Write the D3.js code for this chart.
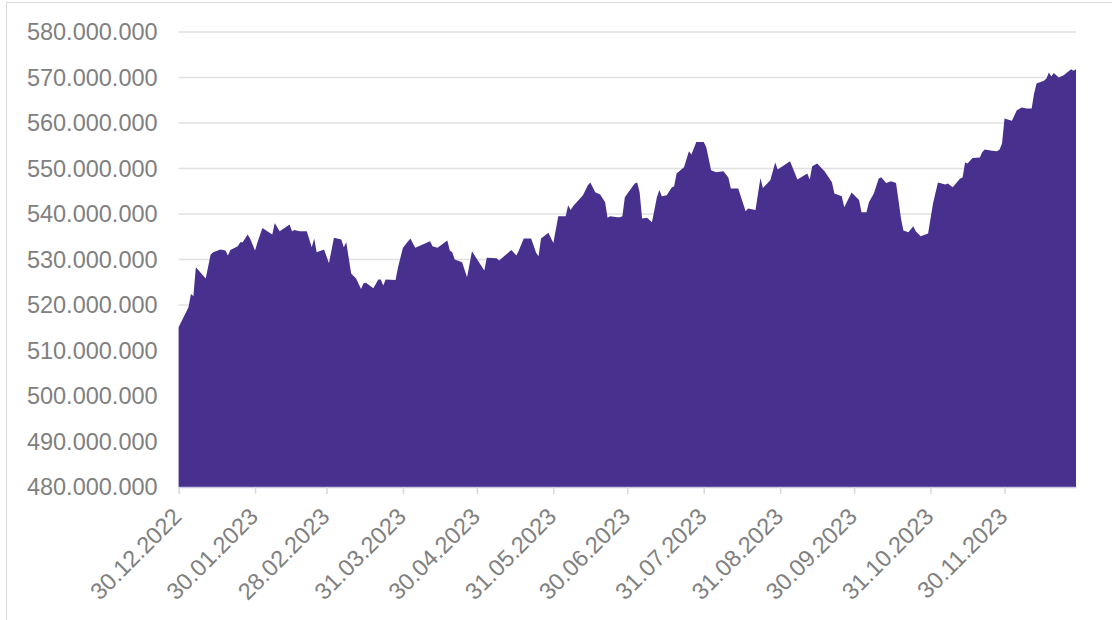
<!DOCTYPE html>
<html>
<head>
<meta charset="utf-8">
<script src="https://cdnjs.cloudflare.com/ajax/libs/d3/7.8.5/d3.min.js"></script>
<style>
  body { margin: 0; background: #ffffff; }
  #chart text { font-family: "Liberation Sans", Arial, sans-serif; fill: #808080; }
</style>
</head>
<body>
<div id="chart"></div>
<script>
// dates of the series (calendar days)
var dates = [
  "2022-12-30","2023-01-03","2023-01-04","2023-01-05","2023-01-06","2023-01-10","2023-01-12","2023-01-13",
  "2023-01-16","2023-01-18","2023-01-19","2023-01-20","2023-01-23","2023-01-24","2023-01-25","2023-01-27",
  "2023-01-28","2023-01-30","2023-01-31","2023-02-02","2023-02-06","2023-02-07","2023-02-09","2023-02-13",
  "2023-02-14","2023-02-15","2023-02-17","2023-02-20","2023-02-22","2023-02-23","2023-02-24","2023-02-27",
  "2023-03-01","2023-03-03","2023-03-06","2023-03-07","2023-03-08","2023-03-10","2023-03-12","2023-03-14",
  "2023-03-15","2023-03-16","2023-03-19","2023-03-21","2023-03-22","2023-03-23","2023-03-24","2023-03-28",
  "2023-03-29","2023-03-31","2023-04-03","2023-04-05","2023-04-11","2023-04-12","2023-04-14","2023-04-18",
  "2023-04-19","2023-04-20","2023-04-21","2023-04-24","2023-04-26","2023-04-28","2023-05-03","2023-05-04",
  "2023-05-08","2023-05-09","2023-05-14","2023-05-16","2023-05-17","2023-05-19","2023-05-22","2023-05-23",
  "2023-05-24","2023-05-25","2023-05-26","2023-05-29","2023-05-31","2023-06-02","2023-06-05","2023-06-06",
  "2023-06-07","2023-06-08","2023-06-12","2023-06-14","2023-06-15","2023-06-17","2023-06-19","2023-06-21",
  "2023-06-22","2023-06-23","2023-06-26","2023-06-27","2023-06-28","2023-06-29","2023-07-03","2023-07-04",
  "2023-07-05","2023-07-06","2023-07-08","2023-07-10","2023-07-12","2023-07-13","2023-07-14","2023-07-16",
  "2023-07-18","2023-07-19","2023-07-20","2023-07-23","2023-07-25","2023-07-26","2023-07-28","2023-07-31",
  "2023-08-01","2023-08-03","2023-08-05","2023-08-08","2023-08-10","2023-08-11","2023-08-14","2023-08-17",
  "2023-08-18","2023-08-21","2023-08-23","2023-08-24","2023-08-27","2023-08-29","2023-08-30","2023-09-04",
  "2023-09-05","2023-09-07","2023-09-11","2023-09-12","2023-09-13","2023-09-15","2023-09-18","2023-09-21",
  "2023-09-22","2023-09-25","2023-09-26","2023-09-27","2023-09-29","2023-10-02","2023-10-03","2023-10-05",
  "2023-10-06","2023-10-08","2023-10-10","2023-10-11","2023-10-13","2023-10-15","2023-10-17","2023-10-18",
  "2023-10-19","2023-10-20","2023-10-22","2023-10-24","2023-10-25","2023-10-27","2023-10-30","2023-11-01",
  "2023-11-03","2023-11-06","2023-11-07","2023-11-09","2023-11-12","2023-11-13","2023-11-14","2023-11-15",
  "2023-11-17","2023-11-20","2023-11-21","2023-11-22","2023-11-25","2023-11-27","2023-11-28","2023-11-29",
  "2023-11-30","2023-12-03","2023-12-05","2023-12-07","2023-12-09","2023-12-11","2023-12-12","2023-12-13",
  "2023-12-16","2023-12-17","2023-12-18","2023-12-19","2023-12-20","2023-12-22","2023-12-24","2023-12-26",
  "2023-12-27","2023-12-28","2023-12-29"
];

// values in millions
var values = [
  515.1,519.5,522.4,522.0,528.3,525.8,531.1,531.6,
  532.2,532.0,530.9,532.1,532.9,533.8,533.8,535.5,
  534.6,532.0,533.8,536.9,535.5,538.0,536.2,537.7,
  536.2,536.5,536.2,536.2,532.7,534.6,531.6,532.2,
  529.2,534.8,534.4,532.7,533.8,526.9,525.8,523.5,
  524.8,524.9,523.7,525.6,525.6,524.3,525.6,525.5,
  528.3,532.6,534.6,532.6,534.0,532.9,532.6,534.2,
  532.0,531.6,530.0,529.4,526.1,531.8,527.6,530.4,
  530.3,529.8,532.1,530.9,532.0,534.6,534.6,533.1,
  531.5,530.7,534.6,535.9,533.6,539.5,539.5,541.9,
  540.9,541.7,544.1,546.3,546.9,544.8,544.3,542.6,
  539.2,539.5,539.3,539.3,539.5,543.7,546.7,546.9,
  544.8,539.0,539.2,538.2,543.7,545.3,543.9,544.1,
  545.8,546.1,548.9,550.3,553.8,553.1,555.8,555.8,
  554.7,549.6,549.2,549.4,548.0,545.6,545.6,540.6,
  541.2,540.9,547.9,545.7,547.4,551.3,549.8,551.6,
  550.3,547.6,548.9,547.6,550.5,551.1,549.4,547.0,
  544.5,543.9,541.5,542.6,544.7,543.1,540.4,540.4,
  542.6,544.5,547.8,548.1,546.8,547.2,546.8,543.0,
  539.0,536.4,536.0,537.3,536.2,535.1,535.7,542.3,
  546.9,546.5,546.7,545.9,547.8,548.0,551.3,551.1,
  552.3,552.4,553.6,554.2,553.9,553.8,554.2,555.5,
  561.0,560.5,562.8,563.4,563.2,563.2,566.5,568.7,
  569.3,569.8,571.1,570.2,571.0,570.0,570.5,571.4,
  571.8,571.5,571.8
];

// tick labels
var xTickLabels = ["30.12.2022","30.01.2023","28.02.2023","31.03.2023","30.04.2023","31.05.2023",
                   "30.06.2023","31.07.2023","31.08.2023","30.09.2023","31.10.2023","30.11.2023"];
var yTicks = [480, 490, 500, 510, 520, 530, 540, 550, 560, 570, 580];

var W = 1112, H = 620;
var margin = {top: 32, right: 36, bottom: 133, left: 178.6};
var width = W - margin.left - margin.right,
    height = H - margin.top - margin.bottom;

var parseIso = d3.utcParse("%Y-%m-%d"),
    parseDe = d3.utcParse("%d.%m.%Y");

var data = dates.map(function(d, i) { return {date: parseIso(d), value: values[i]}; });

var de = d3.formatLocale({decimal: ",", thousands: ".", grouping: [3], currency: ["", " €"]});
var fmt = de.format(",.0f");

var svg = d3.select("#chart").append("svg")
    .attr("width", W)
    .attr("height", H);

// outer frame
svg.append("rect")
    .attr("x", 6.5).attr("y", 2.5)
    .attr("width", 1120).attr("height", 640)
    .attr("fill", "none")
    .attr("stroke", "#d9d9d9")
    .attr("stroke-width", 1);

var g = svg.append("g")
    .attr("transform", "translate(" + margin.left + "," + margin.top + ")");

var x = d3.scaleUtc()
    .domain([parseIso("2022-12-30"), parseIso("2023-12-29")])
    .range([0, width]);
var y = d3.scaleLinear()
    .domain([480, 580])
    .range([height, 0]);

// gridlines
g.append("g")
    .selectAll("line")
    .data(yTicks)
    .enter().append("line")
      .attr("x1", 0).attr("x2", width)
      .attr("y1", function(d) { return y(d); })
      .attr("y2", function(d) { return y(d); })
      .attr("stroke", "#e0e0e0")
      .attr("stroke-width", 1.5);

// y labels
g.append("g")
    .selectAll("text")
    .data(yTicks)
    .enter().append("text")
      .attr("x", -21)
      .attr("y", function(d) { return y(d); })
      .attr("dy", "0.35em")
      .attr("text-anchor", "end")
      .style("font-size", "23.5px")
      .text(function(d) { return fmt(d * 1e6); });

// the area
var area = d3.area()
    .x(function(d) { return x(d.date); })
    .y0(height)
    .y1(function(d) { return y(d.value); });

g.append("path")
    .datum(data)
    .attr("fill", "#48308e")
    .attr("d", area);

// x axis
var xTicks = xTickLabels.map(function(s) { return parseDe(s); });
var xAxis = g.append("g")
    .attr("transform", "translate(0," + height + ")")
    .call(d3.axisBottom(x).tickValues(xTicks).tickSize(7).tickSizeOuter(0)
      .tickFormat(function(d, i) { return xTickLabels[i]; }));

xAxis.select(".domain").attr("stroke", "#c8c8e0").attr("stroke-width", 1.5);
xAxis.selectAll(".tick line").attr("stroke", "#d9d9d9").attr("stroke-width", 1.5);
xAxis.selectAll(".tick text")
    .style("font-size", "23.5px")
    .attr("text-anchor", "end")
    .attr("x", 0).attr("y", 0).attr("dy", 0)
    .attr("transform", "translate(4,31) rotate(-45)");
</script>
</body>
</html>
